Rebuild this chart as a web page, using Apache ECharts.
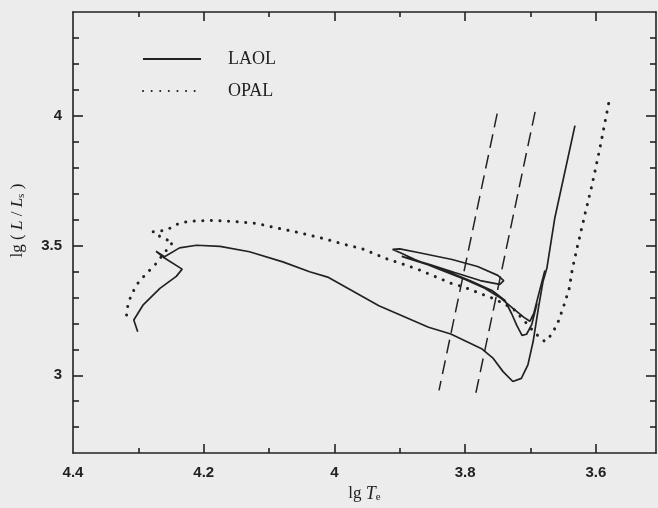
<!DOCTYPE html>
<html><head><meta charset="utf-8">
<script src="https://cdn.jsdelivr.net/npm/echarts@6/dist/echarts.min.js"></script>
<style>html,body{margin:0;padding:0;background:#ececec}#c{width:658px;height:508px}</style>
</head><body><div id="c"></div>
<script>
// [lg Te, lg L/Ls]
const laolTrack = [[4.301,3.168],[4.307,3.213],[4.293,3.270],[4.267,3.335],[4.242,3.381],[4.233,3.409],[4.260,3.452],[4.273,3.478],[4.260,3.457],[4.237,3.491],[4.211,3.501],[4.175,3.497],[4.130,3.476],[4.079,3.437],[4.038,3.399],[4.009,3.377],[3.932,3.268],[3.856,3.185],[3.822,3.159],[3.774,3.101],[3.757,3.065],[3.742,3.014],[3.727,2.976],[3.714,2.988],[3.704,3.040],[3.696,3.130],[3.688,3.258],[3.681,3.360],[3.675,3.412],[3.663,3.604],[3.632,3.962]];
const laolLoops = [[3.678,3.404],[3.686,3.327],[3.695,3.238],[3.701,3.208],[3.710,3.223],[3.725,3.254],[3.747,3.300],[3.770,3.335],[3.800,3.369],[3.839,3.408],[3.877,3.446],[3.900,3.473],[3.911,3.485],[3.900,3.487],[3.872,3.473],[3.820,3.446],[3.781,3.419],[3.750,3.385],[3.741,3.365],[3.747,3.350],[3.777,3.365],[3.816,3.396],[3.854,3.427],[3.885,3.450],[3.897,3.458],[3.885,3.448],[3.839,3.412],[3.793,3.365],[3.759,3.327],[3.739,3.288],[3.729,3.238],[3.721,3.192],[3.713,3.154],[3.706,3.158],[3.698,3.196],[3.690,3.277]];
const opalTrack = [[4.318,3.232],[4.316,3.270],[4.311,3.309],[4.301,3.354],[4.288,3.392],[4.275,3.424],[4.261,3.469],[4.247,3.514],[4.262,3.527],[4.278,3.553],[4.257,3.559],[4.242,3.581],[4.224,3.593],[4.191,3.597],[4.155,3.593],[4.119,3.585],[4.089,3.568],[4.053,3.549],[4.017,3.527],[3.984,3.504],[3.958,3.488],[3.918,3.447],[3.890,3.424],[3.869,3.405],[3.839,3.373],[3.821,3.354],[3.803,3.341],[3.777,3.315],[3.757,3.296],[3.727,3.258],[3.706,3.200],[3.693,3.162],[3.678,3.130],[3.667,3.159],[3.657,3.210],[3.649,3.268],[3.641,3.332],[3.636,3.409],[3.629,3.488],[3.617,3.617],[3.606,3.732],[3.594,3.873],[3.580,4.053]];
const stripBlueEdge = [[3.751,4.008],[3.840,2.942]];
const stripRedEdge = [[3.693,4.015],[3.784,2.927]];

const xMajorTicks = [3.6,3.8,4.0,4.2];
const xMinorTicks = [3.7,3.9,4.1,4.3];
const xTickLabels = [3.6,3.8,4.0,4.2,4.4];
const yMajorTicks = [3,3.5,4];
const yMinorTicks = [2.8,2.9,3.1,3.2,3.3,3.4,3.6,3.7,3.8,3.9,4.1,4.2,4.3];
const yTickLabels = [3,3.5,4];

const INK = '#222';
const fmt = v => String(Math.round(v*10)/10);
const X_MIN = 3.508, X_MAX = 4.4, Y_MIN = 2.7, Y_MAX = 4.4;

function xAx(pos, ticks, len, showLine, labels, extra) {
  return Object.assign({
    type:'value', min:X_MIN, max:X_MAX, inverse:true, position:pos,
    axisLine:{show:showLine, onZero:false, lineStyle:{color:INK, width:1.6}},
    splitLine:{show:false},
    axisTick:{show:true, inside:true, length:len, customValues:ticks, lineStyle:{color:INK, width:1.6}},
    axisLabel: labels ? {show:true, customValues:labels, formatter:fmt, margin:12, color:INK,
      fontFamily:'Liberation Sans', fontWeight:'bold', fontSize:15} : {show:false}
  }, extra||{});
}
function yAx(pos, ticks, len, showLine, labels, extra) {
  return Object.assign({
    type:'value', min:Y_MIN, max:Y_MAX, position:pos,
    axisLine:{show:showLine, onZero:false, lineStyle:{color:INK, width:1.6}},
    splitLine:{show:false},
    axisTick:{show:true, inside:true, length:len, customValues:ticks, lineStyle:{color:INK, width:1.6}},
    axisLabel: labels ? {show:true, customValues:labels, formatter:fmt, margin:11, color:INK,
      fontFamily:'Liberation Sans', fontWeight:'bold', fontSize:15} : {show:false}
  }, extra||{});
}

const chart = echarts.init(document.getElementById('c'), null, {renderer:'canvas'});
chart.setOption({
  animation:false,
  backgroundColor:'#ececec',
  grid:{left:73, right:2, top:12, bottom:54},
  legend:{
    data:['LAOL','OPAL'], orient:'vertical', left:137, top:45,
    itemWidth:58, itemHeight:14, itemGap:14,
    itemStyle:{color:'rgba(0,0,0,0)', borderWidth:0, opacity:0},
    textStyle:{fontFamily:'Liberation Serif', fontSize:18, color:INK, padding:[0,0,0,22]}
  },
  xAxis:[
    xAx('bottom', xMajorTicks, 9, true, xTickLabels, {
      name:'{a|lg }{i|T}{s|e}', nameLocation:'middle', nameGap:30,
      nameTextStyle:{rich:{
        a:{fontFamily:'Liberation Serif', fontSize:17, color:INK},
        i:{fontFamily:'Liberation Serif', fontSize:18, fontStyle:'italic', color:INK},
        s:{fontFamily:'Liberation Serif', fontSize:11, color:INK, padding:[7,0,0,0]}
      }}
    }),
    xAx('bottom', xMinorTicks, 5, false, null),
    xAx('top', xMajorTicks, 9, true, null),
    xAx('top', xMinorTicks, 5, false, null)
  ],
  yAxis:[
    yAx('left', yMajorTicks, 10, true, yTickLabels, {
      name:'{a|lg ( }{i|L}{a| / }{i|L}{s|s}{a| )}', nameLocation:'middle', nameGap:46, nameRotate:90,
      nameTextStyle:{padding:[0,0,0,24], rich:{
        a:{fontFamily:'Liberation Serif', fontSize:17, color:INK},
        i:{fontFamily:'Liberation Serif', fontSize:17, fontStyle:'italic', color:INK},
        s:{fontFamily:'Liberation Serif', fontSize:11, color:INK, padding:[7,0,0,0]}
      }}
    }),
    yAx('left', yMinorTicks, 6, false, null),
    yAx('right', yMajorTicks, 10, true, null),
    yAx('right', yMinorTicks, 6, false, null)
  ],
  series:[
    {name:'LAOL', type:'line', data:laolTrack, symbol:'none', showSymbol:false,
     lineStyle:{color:INK, width:1.7, type:'solid'}, itemStyle:{color:INK}},
    {name:'LAOL loops', type:'line', data:laolLoops, symbol:'none', showSymbol:false,
     lineStyle:{color:INK, width:1.7, type:'solid'}, itemStyle:{color:INK}},
    {name:'OPAL', type:'line', data:opalTrack, symbol:'none', showSymbol:false,
     lineStyle:{color:INK, width:3, type:[0.1,8.5], cap:'round'}, itemStyle:{color:INK}},
    {name:'strip blue', type:'line', data:stripBlueEdge, symbol:'none', showSymbol:false,
     lineStyle:{color:INK, width:1.5, type:[14,7]}},
    {name:'strip red', type:'line', data:stripRedEdge, symbol:'none', showSymbol:false,
     lineStyle:{color:INK, width:1.5, type:[14,7]}}
  ]
});
</script></body></html>
